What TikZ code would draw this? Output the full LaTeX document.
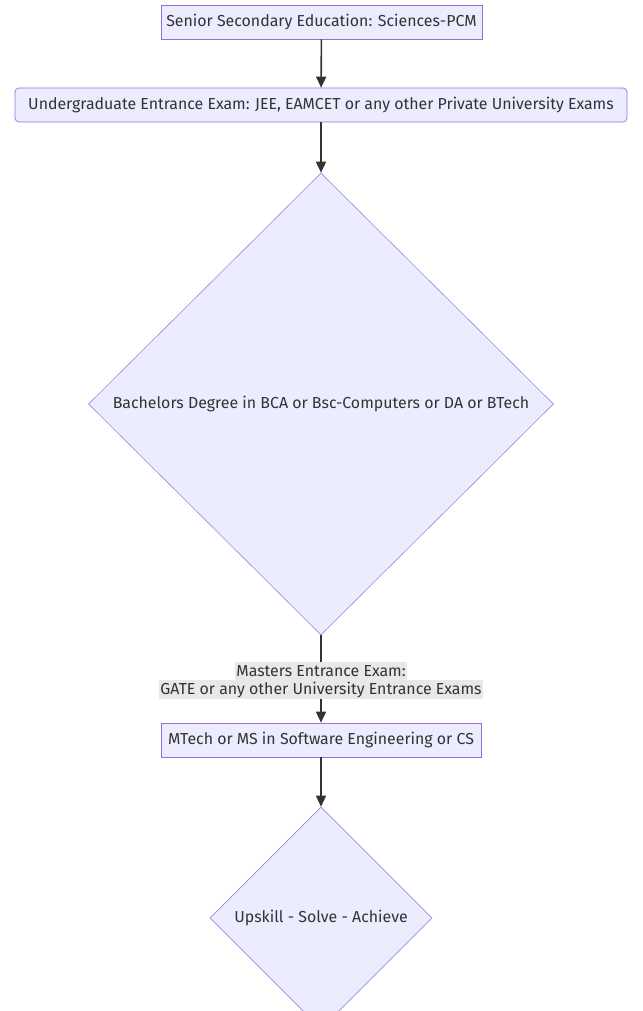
\documentclass[tikz,border=0pt]{standalone}
\usepackage{fontspec}
\setmainfont{Fira Sans}
\usetikzlibrary{arrows.meta,shapes.geometric}
\definecolor{nodefill}{HTML}{ECECFF}
\definecolor{nodeline}{HTML}{9370DB}
\definecolor{ink}{HTML}{333333}
\definecolor{labelbg}{HTML}{E8E8E8}
\tikzset{
  stepbox/.style={draw=nodeline, fill=nodefill, line width=0.7pt, text=ink,
    font=\fontsize{15.9}{18}\selectfont, minimum height=34pt, inner sep=0pt},
  roundbox/.style={stepbox, rounded corners=4pt},
  choice/.style={diamond, aspect=1, draw=nodeline!85!white, fill=nodefill, line width=0.6pt,
    text=ink, font=\fontsize{15.9}{18}\selectfont, inner sep=0pt},
  flow/.style={draw=ink, line width=1.6pt, -{Triangle[length=11pt,width=10pt]}},
  edgelab/.style={fill=labelbg, text=ink, font=\fontsize{15.9}{18}\selectfont,
    inner xsep=1pt, inner ysep=0pt, minimum height=19pt},
}

\begin{document}
\begin{tikzpicture}[x=1pt, y=-1pt]
  \useasboundingbox (0,0) rectangle (642,1011);

  % steps, top to bottom
  \node[stepbox, minimum width=321pt] (school) at (321.5,22) {Senior Secondary Education: Sciences-PCM};
  \node[roundbox, minimum width=612pt] (ugexam) at (321,105) {Undergraduate Entrance Exam: JEE, EAMCET or any other Private University Exams};
  \node[choice, minimum width=465pt, minimum height=462pt] (bachelor) at (321,404) {Bachelors Degree in BCA or Bsc-Computers or DA or BTech};
  \node[stepbox, minimum width=320pt] (master) at (321,740) {MTech or MS in Software Engineering or CS};
  \node[choice, minimum width=222pt, minimum height=222pt] (upskill) at (321,918) {Upskill - Solve - Achieve};

  % connectors
  \draw[flow] (school) -- (ugexam);
  \draw[flow] (ugexam) -- (bachelor);
  \draw[flow] (bachelor) -- (master);
  \draw[flow] (master) -- (upskill);

  % label on the masters connector
  \node[edgelab] (pgexam) at (321,671) {Masters Entrance Exam:};
  \node[edgelab] (pgexamb) at (321,689.5) {GATE or any other University Entrance Exams};
\end{tikzpicture}
\end{document}
